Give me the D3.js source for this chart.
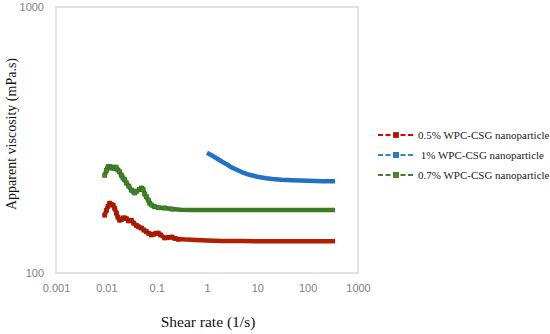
<!DOCTYPE html>
<html>
<head>
<meta charset="utf-8">
<script src="https://cdn.jsdelivr.net/npm/d3@7"></script>
<style>
  body { margin: 0; background: #fff; }
  svg { display: block; }
</style>
</head>
<body>
<div id="chart"></div>
<script>
// shear rate (1/s) and apparent viscosity (mPa.s)
var redRate = [0.0093, 0.0100, 0.0108, 0.0117, 0.0126, 0.0136, 0.0147, 0.0158, 0.0170, 0.0184, 0.0200, 0.0216, 0.0232, 0.0250, 0.0275, 0.0313, 0.0350, 0.0394, 0.0440, 0.0496, 0.0560, 0.0623, 0.0700, 0.0785, 0.088, 0.097, 0.107, 0.12, 0.1445, 0.17, 0.2, 0.23, 0.27, 0.32, 0.4, 0.6, 1, 2, 5, 10, 30, 100, 350];
var redVisc = [165, 172, 178, 183, 181, 180, 175, 168, 162, 158, 159, 161, 161, 160, 157, 158, 154, 151, 149, 147.6, 145, 143, 141, 139, 140, 141, 141.3, 139, 135.5, 136, 136.5, 135, 134, 134, 133.5, 133, 132.5, 132, 132, 131.5, 131.5, 131.5, 131.5];

var blueRate = [1.0, 1.2, 1.4, 1.7, 2, 2.5, 3, 4, 5, 7, 10, 15, 20, 30, 50, 100, 200, 350];
var blueVisc = [283, 278, 273, 267, 262, 256, 250, 244, 239, 234, 230, 227, 225.5, 224, 223, 222, 221.5, 221.5];

var greenRate = [0.0093, 0.0100, 0.0108, 0.0117, 0.0126, 0.0136, 0.0146, 0.0156, 0.0170, 0.0184, 0.0200, 0.0214, 0.0232, 0.0249, 0.0280, 0.0313, 0.0340, 0.0366, 0.0400, 0.0460, 0.0500, 0.0536, 0.0580, 0.0623, 0.0680, 0.0728, 0.080, 0.0914, 0.11, 0.1445, 0.2, 0.3, 0.5, 1, 2, 5, 10, 20, 50, 100, 200, 350];
var greenVisc = [233, 243, 251, 251, 248, 250, 247, 250, 244, 240, 233, 227.6, 224, 218, 212, 205, 203, 200, 203, 206, 208.7, 206, 198, 193.5, 188, 183, 180, 177.5, 176, 175.5, 174, 173, 172.5, 172.5, 172.5, 172.5, 172.5, 172.5, 172.5, 172.5, 172.5, 172.5];

var seriesNames = ["0.5% WPC-CSG nanoparticle", " 1% WPC-CSG nanoparticle", "0.7% WPC-CSG nanoparticle"];
var xTicks = [0.001, 0.01, 0.1, 1, 10, 100, 1000];
var xTickLabels = ["0.001", "0.01", "0.1", "1", "10", "100", "1000"];
var yTicks = [100, 1000];
var yTickLabels = ["100", "1000"];

var W = 550, H = 334;
var svg = d3.select("#chart").append("svg")
  .attr("width", W)
  .attr("height", H);

var x = d3.scaleLog().domain([0.001, 1000]).range([56, 358]);
var y = d3.scaleLog().domain([100, 1000]).range([273, 7]);

// plot frame
svg.append("rect")
  .attr("x", x.range()[0])
  .attr("y", y.range()[1])
  .attr("width", x.range()[1] - x.range()[0])
  .attr("height", y.range()[0] - y.range()[1])
  .attr("fill", "none")
  .attr("stroke", "#d9d9d9")
  .attr("stroke-width", 1.5);

var xAxis = svg.append("g")
  .attr("transform", "translate(0," + y.range()[0] + ")")
  .call(d3.axisBottom(x).tickValues(xTicks).tickSize(0).tickPadding(11)
    .tickFormat(function(d, i) { return xTickLabels[i]; }));
xAxis.select(".domain").remove();

var yAxis = svg.append("g")
  .attr("transform", "translate(" + x.range()[0] + ",0)")
  .call(d3.axisLeft(y).tickValues(yTicks).tickSize(0).tickPadding(12)
    .tickFormat(function(d, i) { return yTickLabels[i]; }));
yAxis.select(".domain").remove();

svg.selectAll(".tick text")
  .attr("fill", "#7f7f7f")
  .style("font-family", "'Liberation Sans', Arial, sans-serif")
  .style("font-size", "11px");

var series = [
  { name: seriesNames[0], rate: redRate, visc: redVisc, line: "#b41e00", fill: "#c40a00", edge: "#8e2a05", legendLine: "#e00000" },
  { name: seriesNames[1], rate: blueRate, visc: blueVisc, line: "#2271c2", fill: "#2a78c8", edge: "#1d63ad", legendLine: "#2e86d0" },
  { name: seriesNames[2], rate: greenRate, visc: greenVisc, line: "#3c7d22", fill: "#468a2a", edge: "#35701d", legendLine: "#4a7a30" }
];

var line = d3.line()
  .x(function(d) { return x(d[0]); })
  .y(function(d) { return y(d[1]); });

series.forEach(function(s) {
  var pts = d3.zip(s.rate, s.visc);
  var g = svg.append("g");
  g.append("path")
    .datum(pts)
    .attr("d", line)
    .attr("fill", "none")
    .attr("stroke", s.line)
    .attr("stroke-width", 4.5)
    .attr("stroke-linejoin", "round");
  g.selectAll("rect")
    .data(pts.filter(function(d) { return d[0] < 0.3; }))
    .enter()
    .append("rect")
    .attr("x", function(d) { return x(d[0]) - 2; })
    .attr("y", function(d) { return y(d[1]) - 2; })
    .attr("width", 4)
    .attr("height", 4)
    .attr("fill", s.fill)
    .attr("stroke", s.edge)
    .attr("stroke-width", 0.8);
});

// legend
var legend = svg.selectAll(".legend")
  .data(series)
  .enter()
  .append("g")
  .attr("class", "legend")
  .attr("transform", function(d, i) { return "translate(378," + (135 + i * 20) + ")"; });

legend.append("line")
  .attr("x1", 0).attr("x2", 37)
  .attr("y1", 0).attr("y2", 0)
  .attr("stroke", function(d) { return d.legendLine; })
  .attr("stroke-width", 2)
  .attr("stroke-dasharray", "5,2.5");

legend.append("rect")
  .attr("x", 15.5).attr("y", -2.5)
  .attr("width", 5).attr("height", 5)
  .attr("fill", function(d) { return d.fill; })
  .attr("stroke", function(d) { return d.edge; })
  .attr("stroke-width", 0.8);

legend.append("text")
  .attr("x", 40)
  .attr("y", 0)
  .attr("dy", "0.35em")
  .attr("fill", "#222")
  .style("font-family", "'Liberation Serif', 'Times New Roman', serif")
  .style("font-size", "11px")
  .style("white-space", "pre")
  .attr("xml:space", "preserve")
  .text(function(d) { return d.name; });

// axis titles
svg.append("text")
  .attr("x", 208)
  .attr("y", 327)
  .attr("text-anchor", "middle")
  .attr("fill", "#111")
  .style("font-family", "'Liberation Serif', 'Times New Roman', serif")
  .style("font-size", "15.5px")
  .text("Shear rate (1/s)");

svg.append("text")
  .attr("transform", "translate(16,134) rotate(-90)")
  .attr("text-anchor", "middle")
  .attr("fill", "#111")
  .style("font-family", "'Liberation Serif', 'Times New Roman', serif")
  .style("font-size", "14px")
  .text("Apparent viscosity (mPa.s)");
</script>
</body>
</html>
